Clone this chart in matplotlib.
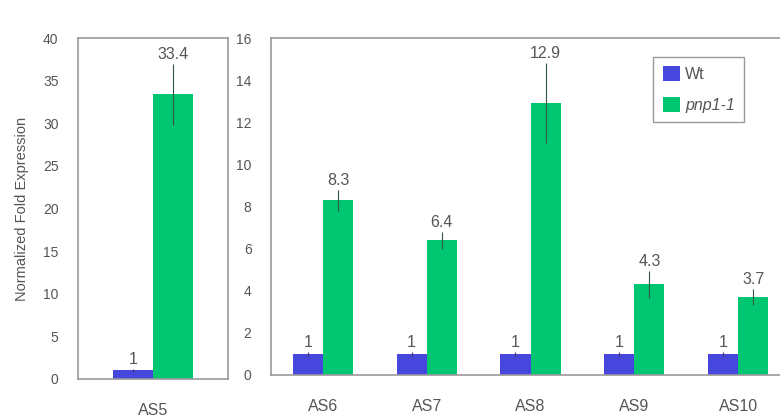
import matplotlib.pyplot as plt
import numpy as np

plt.rcParams['font.family'] = ['Liberation Sans', 'DejaVu Sans']

# data
left_cat = ['AS5']
left_wt = [1]
left_wt_err = [0.15]
left_mut = [33.4]
left_mut_err = [3.6]

right_cats = ['AS6', 'AS7', 'AS8', 'AS9', 'AS10']
right_wt = [1, 1, 1, 1, 1]
right_wt_err = [0.1, 0.1, 0.1, 0.1, 0.1]
right_mut = [8.3, 6.4, 12.9, 4.3, 3.7]
right_mut_err = [0.5, 0.4, 1.9, 0.65, 0.4]

blue = '#4747de'
green = '#00c672'
txt = '#555555'
frame = '#999999'

fig = plt.figure(figsize=(7.8, 4.2), dpi=100)
ax1 = fig.add_axes([78/780, 1-379/420, 150/780, 341/420])
ax2 = fig.add_axes([271/780, 1-375/420, 519/780, 337/420])


def draw(ax, cats, wt, wt_err, mut, mut_err, w, ylim, step, offset):
    x = np.arange(len(cats))
    ax.bar(x - w/2, wt, w, color=blue, label='Wt')
    ax.bar(x + w/2, mut, w, color=green, label='pnp1-1')
    ax.errorbar(x - w/2, wt, yerr=wt_err, fmt='none', ecolor='#333366', elinewidth=0.8)
    ax.errorbar(x + w/2, mut, yerr=mut_err, fmt='none', ecolor='#335544', elinewidth=0.8)
    for xi, v, e in zip(x - w/2, wt, wt_err):
        ax.text(xi, v + e + offset, f'{v:g}', ha='center', va='bottom', fontsize=11.5, color=txt)
    for xi, v, e in zip(x + w/2, mut, mut_err):
        ax.text(xi, v + e + offset, f'{v:g}', ha='center', va='bottom', fontsize=11.5, color=txt)
    ax.set_ylim(*ylim)
    ax.set_yticks(np.arange(ylim[0], ylim[1] + 0.01, step))
    ax.set_xticks(x)
    ax.set_xticklabels(cats)
    ax.tick_params(axis='x', length=0, pad=17, labelsize=11.5, labelcolor=txt)
    ax.tick_params(axis='y', length=0, pad=14, labelsize=10, labelcolor=txt)
    for s in ax.spines.values():
        s.set_color(frame)
        s.set_linewidth(1.2)


draw(ax1, left_cat, left_wt, left_wt_err, left_mut, left_mut_err, 0.267, (0, 40), 5, 0.2)
ax1.set_xlim(-0.5, 0.5)
ax1.set_ylabel('Normalized Fold Expression', color=txt, fontsize=10.5, labelpad=10)

draw(ax2, right_cats, right_wt, right_wt_err, right_mut, right_mut_err, 0.29, (0, 16), 2, 0.1)
ax2.set_xlim(-0.5, 4.5)

leg = ax2.legend(loc='upper left', bbox_to_anchor=(382/519, 0.945), fontsize=11.5,
                 handlelength=1.1, handleheight=1.1, handletextpad=0.3,
                 fancybox=False, framealpha=1, edgecolor=frame, labelcolor=txt,
                 borderpad=0.6, labelspacing=0.9, borderaxespad=0)
leg.get_texts()[1].set_style('italic')

fig.savefig('out.png', dpi=100)
